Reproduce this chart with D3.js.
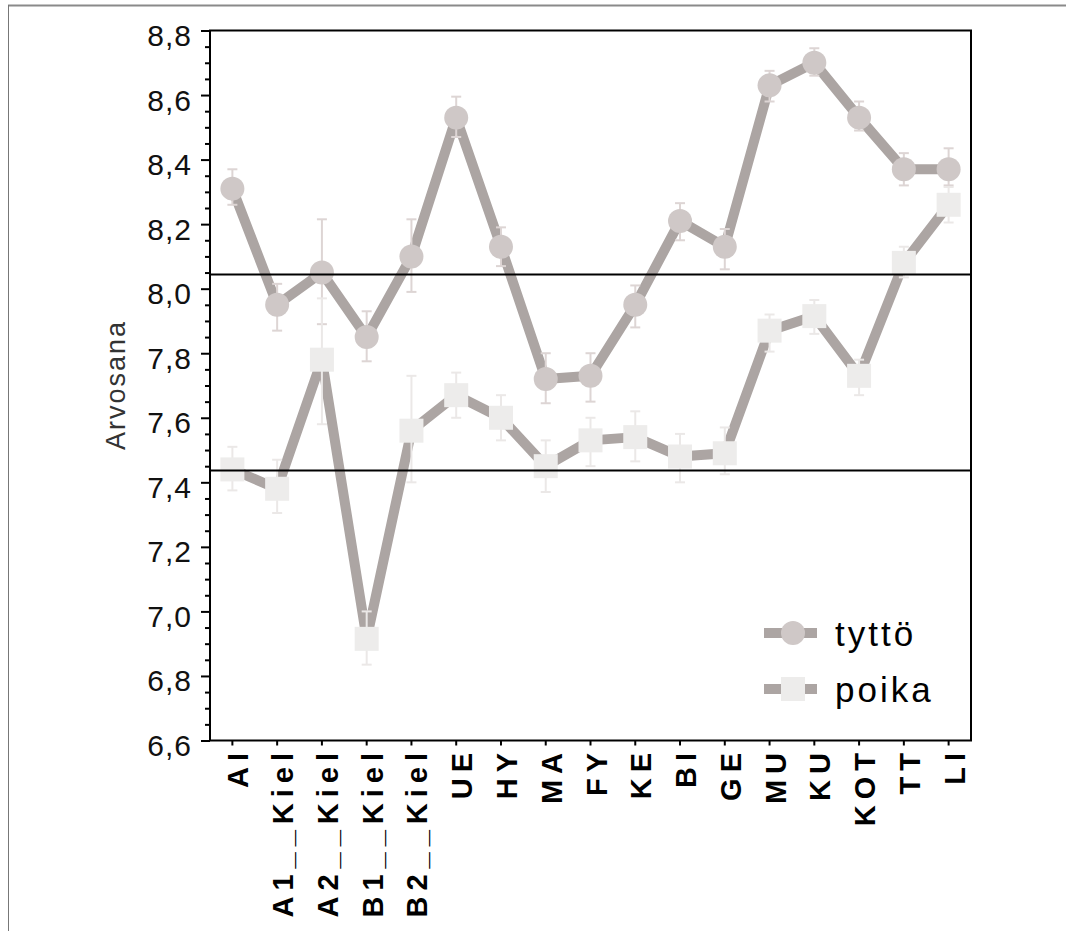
<!DOCTYPE html>
<html><head><meta charset="utf-8">
<script src="https://cdn.jsdelivr.net/npm/d3@7"></script>
<style>html,body{margin:0;padding:0;background:#fff;} svg{display:block}</style>
</head><body>
<svg id="chart" width="1066" height="931"></svg>
<script>
// ---- data ----
const categories = ["AI","A1__Kiel","A2__Kiel","B1__Kiel","B2__Kiel","UE","HY","MA","FY","KE","BI","GE","MU","KU","KOT","TT","LI"];
const seriesNames = ["tyttö","poika"];
const tyttoValues = [8.31,7.95,8.05,7.85,8.10,8.53,8.13,7.72,7.73,7.95,8.21,8.13,8.63,8.70,8.53,8.37,8.37];
const tyttoHigh   = [8.37,8.015,8.215,7.93,8.215,8.595,8.19,7.80,7.80,8.01,8.265,8.185,8.675,8.745,8.58,8.42,8.435];
const tyttoLow    = [8.26,7.87,7.89,7.775,7.99,8.47,8.07,7.645,7.65,7.88,8.15,8.06,8.58,8.66,8.49,8.32,8.32];
const poikaValues = [7.44,7.38,7.78,6.915,7.56,7.67,7.60,7.45,7.53,7.54,7.48,7.49,7.87,7.915,7.73,8.08,8.26];
const poikaHigh   = [7.51,7.47,7.97,7.00,7.73,7.74,7.67,7.53,7.60,7.62,7.55,7.57,7.92,7.965,7.78,8.13,8.315];
const poikaLow    = [7.375,7.305,7.58,6.835,7.40,7.60,7.53,7.37,7.45,7.465,7.40,7.425,7.805,7.86,7.67,8.035,8.205];
const referenceLines = [8.044, 7.439];
const yTicks = [6.6,6.8,7.0,7.2,7.4,7.6,7.8,8.0,8.2,8.4,8.6,8.8];
const yTitle = "Arvosana";

// ---- layout & style ----
const FONT = "'Liberation Sans', Arial, sans-serif";
const plot = {left: 210, right: 971, top: 30.5, bottom: 740.5};
const lineColor = "#aca5a3";
const styles = [
  {marker: "circle", fill: "#cfc8c7", err: "#ddd5d4"},
  {marker: "square", fill: "#edeceb", err: "#ebe8e7"}
];
const series = [
  {name: seriesNames[0], values: tyttoValues, lo: tyttoLow, hi: tyttoHigh},
  {name: seriesNames[1], values: poikaValues, lo: poikaLow, hi: poikaHigh}
];

const svg = d3.select("#chart");

// page border
svg.append("line").attr("x1", 8).attr("x2", 1066).attr("y1", 5.5).attr("y2", 5.5)
  .attr("stroke", "#8a8a8a").attr("stroke-width", 2);
svg.append("line").attr("x1", 8.5).attr("x2", 8.5).attr("y1", 5).attr("y2", 931)
  .attr("stroke", "#777").attr("stroke-width", 1);

const x = d3.scaleBand().domain(categories).range([plot.left, plot.right]).padding(0);
const cx = c => x(c) + x.bandwidth() / 2;
const y = d3.scaleLinear().domain([6.6, 8.8]).range([plot.bottom, plot.top]);

// minor y ticks
const minorTicks = d3.range(6.65, 8.8, 0.05).filter(v => Math.abs(Math.round(v * 5) - v * 5) > 1e-6);
const minorAxis = d3.axisLeft(y).tickValues(minorTicks).tickSize(5).tickFormat("");
const gMinor = svg.append("g").attr("transform", `translate(${plot.left},0)`).call(minorAxis);
gMinor.select(".domain").remove();
gMinor.selectAll("line").attr("stroke", "#000").attr("stroke-width", 2);

// major y ticks
const yLs = 1;
const yAxis = d3.axisLeft(y).tickValues(yTicks).tickSize(9)
  .tickFormat(d => d3.format(".1f")(d).replace(".", ","));
const gY = svg.append("g").attr("transform", `translate(${plot.left},0)`).call(yAxis);
gY.select(".domain").remove();
gY.selectAll("line").attr("stroke", "#000").attr("stroke-width", 2);
gY.selectAll("text")
  .attr("x", -(plot.left - 191 - yLs)).attr("dy", 15)
  .attr("font-family", FONT).attr("font-size", 30).attr("fill", "#111")
  .style("letter-spacing", yLs + "px");

// x axis ticks and labels
const xLs = 6;
const xAxis = d3.axisBottom(x).tickSize(5);
const gX = svg.append("g").attr("transform", `translate(0,${plot.bottom})`).call(xAxis);
gX.select(".domain").remove();
gX.selectAll("line").attr("stroke", "#000").attr("stroke-width", 2);
gX.selectAll("text")
  .attr("transform", "rotate(-90)")
  .attr("text-anchor", "end")
  .attr("x", -(753 - plot.bottom - xLs))
  .attr("y", 16).attr("dy", 0)
  .attr("font-family", FONT).attr("font-size", 29).attr("font-weight", "bold").attr("fill", "#000")
  .style("letter-spacing", xLs + "px");

// y title
svg.append("text")
  .attr("transform", `translate(125,385) rotate(-90)`)
  .attr("text-anchor", "middle")
  .attr("font-family", FONT).attr("font-size", 27).attr("fill", "#333")
  .style("letter-spacing", "2px")
  .text(yTitle);

// lines
const lineGen = d3.line().x((d, i) => cx(categories[i])).y(d => y(d));
series.forEach(s => {
  svg.append("path").datum(s.values).attr("d", lineGen)
    .attr("fill", "none").attr("stroke", lineColor).attr("stroke-width", 10)
    .attr("stroke-linejoin", "round");
});

// error bars
const capW = 5;
series.forEach((s, k) => {
  const g = svg.append("g").attr("stroke", styles[k].err).attr("stroke-width", 2);
  categories.forEach((c, i) => {
    const xx = cx(c);
    g.append("line").attr("x1", xx).attr("x2", xx).attr("y1", y(s.lo[i])).attr("y2", y(s.hi[i]));
    g.append("line").attr("x1", xx - capW).attr("x2", xx + capW).attr("y1", y(s.lo[i])).attr("y2", y(s.lo[i]));
    g.append("line").attr("x1", xx - capW).attr("x2", xx + capW).attr("y1", y(s.hi[i])).attr("y2", y(s.hi[i]));
  });
});

// markers
const R = 12;
function drawMarker(g, type, px, py, fill) {
  if (type === "circle") {
    g.append("circle").attr("cx", px).attr("cy", py).attr("r", R).attr("fill", fill);
  } else {
    g.append("rect").attr("x", px - R).attr("y", py - R).attr("width", 2 * R).attr("height", 2 * R).attr("fill", fill);
  }
}
series.forEach((s, k) => {
  const g = svg.append("g");
  s.values.forEach((v, i) => drawMarker(g, styles[k].marker, cx(categories[i]), y(v), styles[k].fill));
});

// reference lines
referenceLines.forEach(v => {
  svg.append("line").attr("x1", plot.left).attr("x2", plot.right)
    .attr("y1", Math.round(y(v)) + 0.5).attr("y2", Math.round(y(v)) + 0.5)
    .attr("stroke", "#000").attr("stroke-width", 2);
});

// frame
svg.append("rect").attr("x", plot.left).attr("y", plot.top)
  .attr("width", plot.right - plot.left).attr("height", plot.bottom - plot.top)
  .attr("fill", "none").attr("stroke", "#000").attr("stroke-width", 2);

// legend
const legendX = 764, legendY0 = 633, legendDy = 56;
series.forEach((s, k) => {
  const ly = legendY0 + k * legendDy;
  const g = svg.append("g");
  g.append("line").attr("x1", legendX).attr("x2", legendX + 53).attr("y1", ly).attr("y2", ly)
    .attr("stroke", lineColor).attr("stroke-width", 10);
  drawMarker(g, styles[k].marker, legendX + 29, ly, styles[k].fill);
  g.append("text").attr("x", 835).attr("y", ly + 13)
    .attr("font-family", FONT).attr("font-size", 35).attr("fill", "#000")
    .style("letter-spacing", "3px")
    .text(s.name);
});
</script>
</body></html>
